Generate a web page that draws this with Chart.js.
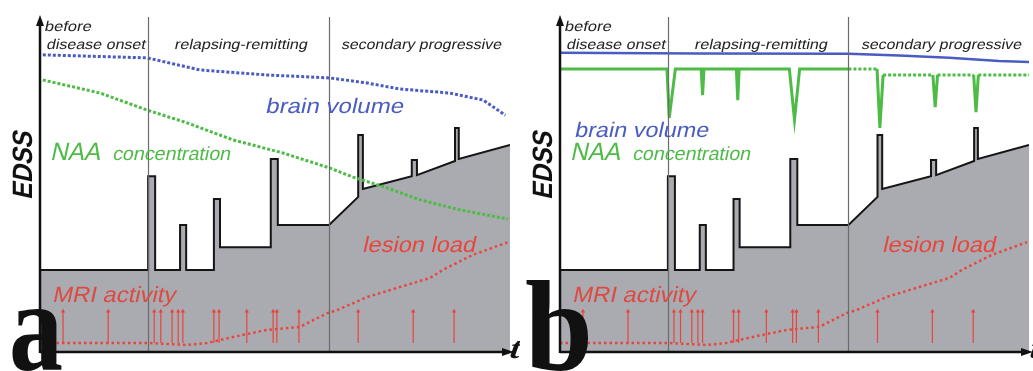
<!DOCTYPE html>
<html>
<head>
<meta charset="utf-8">
<script src="https://cdn.jsdelivr.net/npm/chart.js@4.4.1/dist/chart.umd.min.js"></script>
<style>
html, body { margin: 0; padding: 0; background: #fff; }
#wrap { position: relative; width: 1033px; height: 371px; overflow: hidden; }
canvas { position: absolute; top: 0; }
</style>
</head>
<body>
<div id="wrap">
  <canvas id="chart-a" width="520" height="371" style="left:0"></canvas>
  <canvas id="chart-b" width="513" height="371" style="left:520px"></canvas>
</div>
<script>
// time runs 0..100, values in arbitrary units 0..100
const phaseBounds = [23, 61.5];

// EDSS (disability) step curve, same in both panels
const edssX = [0, 23, 23, 24.5, 24.5, 29.8, 29.8, 31.1, 31.1, 37, 37, 38.3, 38.3, 49.1, 49.1, 50.6, 50.6, 61.5, 67.7, 67.7, 68.7, 68.7, 79.1, 79.1, 80.2, 80.2, 88.3, 88.3, 89.1, 89.1, 100];
const edssY = [24.5, 24.5, 52.5, 52.5, 24.5, 24.5, 37.9, 37.9, 24.5, 24.5, 45.7, 45.7, 31.3, 31.3, 57.6, 57.6, 37.9, 37.9, 46.3, 64.8, 64.8, 48.7, 52.5, 57.3, 57.3, 52.8, 57.0, 66.9, 66.9, 57.6, 61.8];

// lesion load
const lesionX = [0, 8.5, 22.8, 31.3, 35.5, 41.1, 48.3, 55.3, 61.1, 63.2, 69.6, 76.6, 83, 85.7, 92.1, 99.6];
const lesionY = [2.7, 2.7, 2.7, 2.1, 2.7, 4.5, 6.6, 7.5, 11.6, 12.5, 16.4, 19.4, 22.1, 24.5, 29, 32.8];

// MRI activity events
const mriX = [4.9, 14.5, 24.3, 25.7, 28.1, 29.4, 30.4, 37, 38.1, 44, 49.6, 50.4, 55.1, 67.7, 79.4, 88.1];
const mriLow = 2.7;
const mriHigh = 12.2;

// panel a
const brainXa = [0.6, 22.8, 34, 48.3, 61.7, 69.6, 76.6, 87.2, 94.3, 99];
const brainYa = [88.7, 87.8, 84.2, 82.7, 81.8, 80.3, 78.5, 77.3, 75.2, 70.7];
const naaXa = [0.6, 12.8, 22.8, 31.3, 41.1, 51.7, 61.7, 66.6, 73.8, 80.9, 89.4, 99.6];
const naaYa = [81.2, 77.3, 72.2, 68.4, 63.3, 59.4, 54.9, 52.2, 49.0, 45.4, 42.4, 39.7];

// panel b
const brainXb = [0, 29.8, 61.5, 72.3, 83, 93.6, 100];
const brainYb = [89.3, 89.1, 89, 88.5, 87.8, 86.9, 86.6];
const naaXb = [0, 22.8, 23.3, 24.6, 30.1, 30.4, 30.7, 37.6, 37.9, 38.2, 48.9, 50.0, 51.1, 61.5, 67.6, 68.2, 68.9, 79.5, 80.0, 80.5, 88.2, 88.7, 89.2, 100];
const naaYb = [84.5, 84.5, 69.9, 84.5, 84.5, 76.7, 84.5, 84.5, 75.2, 84.5, 84.5, 69.3, 84.5, 84.5, 84.5, 66.9, 82.7, 82.7, 73.1, 82.7, 82.7, 71.6, 82.7, 82.7];

const BLUE = '#4a5cc2', GREEN = '#4dbb46', RED = '#e8453c', GRAY = '#aaabb0';

function pts(xs, ys) { return xs.map((x, i) => ({ x: x, y: ys[i] })); }

function mriLines() {
    const d = [];
    mriX.forEach(x => { d.push({ x: x, y: mriLow }, { x: x, y: mriHigh }, { x: x, y: null }); });
    return d;
}

// draws text stretched to width w, slanted by hand so it is italic whatever the font
function fitText(ctx, text, x, y, w, font, color, rot, slant) {
    ctx.save();
    ctx.font = font;
    ctx.fillStyle = color;
    const m = ctx.measureText(text).width;
    ctx.translate(x, y);
    if (rot) ctx.rotate(rot);
    ctx.transform(1, 0, slant === undefined ? -0.22 : slant, 1, 0, 0);
    ctx.scale(w / m, 1);
    ctx.fillText(text, 0, 0);
    ctx.restore();
}

const SANS = '"Liberation Sans", Arial, sans-serif';
const SERIF = '"Liberation Serif", "Times New Roman", serif';

const sketchPlugin = {
    id: 'sketch',
    afterDatasetsDraw(chart, args, opts) {
        const ctx = chart.ctx, xs = chart.scales.x, ys = chart.scales.y;
        const top = chart.chartArea.top, bot = ys.getPixelForValue(0), left = xs.getPixelForValue(0);
        ctx.save();
        // phase separators
        ctx.strokeStyle = '#6b6b6b';
        ctx.lineWidth = 1.2;
        phaseBounds.forEach(b => {
            const px = Math.round(xs.getPixelForValue(b)) + 0.5;
            ctx.beginPath(); ctx.moveTo(px, top); ctx.lineTo(px, bot); ctx.stroke();
        });
        // axes with arrows
        ctx.strokeStyle = '#111'; ctx.fillStyle = '#111';
        ctx.lineWidth = 2.5;
        ctx.beginPath(); ctx.moveTo(left, bot + 1); ctx.lineTo(left, top + 6); ctx.stroke();
        ctx.beginPath(); ctx.moveTo(left - 4, top + 9); ctx.lineTo(left, top - 2); ctx.lineTo(left + 4, top + 9); ctx.closePath(); ctx.fill();
        ctx.beginPath(); ctx.moveTo(left, bot); ctx.lineTo(xs.right - 4, bot); ctx.stroke();
        ctx.beginPath(); ctx.moveTo(xs.right - 8, bot - 4); ctx.lineTo(xs.right + 4, bot); ctx.lineTo(xs.right - 8, bot + 4); ctx.closePath(); ctx.fill();
        ctx.restore();
    },
    afterDraw(chart, args, opts) {
        const ctx = chart.ctx;
        ctx.save();
        ctx.textBaseline = 'alphabetic';
        fitText(ctx, 'before', 44, 31, 47, '14px ' + SANS, '#222');
        fitText(ctx, 'disease onset', 46, 49, 99, '14px ' + SANS, '#222');
        fitText(ctx, 'relapsing-remitting', 174, 49, 133, '14px ' + SANS, '#222');
        fitText(ctx, 'secondary progressive', 341, 49, 160, '14px ' + SANS, '#222');
        if (opts.panel === 'a') {
            fitText(ctx, 'brain volume', 265, 113, 138, '21px ' + SANS, BLUE);
        } else {
            fitText(ctx, 'brain volume', 54, 137, 134, '21px ' + SANS, BLUE);
        }
        fitText(ctx, 'NAA', 50, 160, 50, '25px ' + SANS, GREEN);
        fitText(ctx, 'concentration', 112, 160, 118, '19px ' + SANS, GREEN);
        fitText(ctx, 'lesion load', 362, 252, 113, '22px ' + SANS, RED);
        fitText(ctx, 'MRI activity', 52, 302, 123, '22px ' + SANS, '#dd4a42');
        fitText(ctx, 'EDSS', 32, 200, 68, 'bold 28px ' + SANS, '#111', -Math.PI / 2);
        fitText(ctx, 't', 509, 358, 10, 'bold italic 30px ' + SERIF, '#111', 0, -0.15);
        if (opts.panel === 'a') {
            fitText(ctx, 'a', 9, 370, 54, 'bold 130px ' + SERIF, '#111', 0, 0);
        } else {
            fitText(ctx, 'b', 5, 370, 68, 'bold 130px ' + SERIF, '#111', 0, 0);
        }
        ctx.restore();
    }
};

function commonSets() {
    return [
        {
            label: 'EDSS', data: pts(edssX, edssY), order: 10,
            borderColor: '#151515', borderWidth: 2, backgroundColor: GRAY, fill: 'origin',
            borderJoinStyle: 'miter'
        },
        {
            label: 'lesion load', data: pts(lesionX, lesionY), order: 3,
            borderColor: RED, borderWidth: 2.5, borderDash: [2.5, 3], fill: false
        },
        {
            label: 'MRI activity', data: mriLines(), order: 4,
            borderColor: RED, borderWidth: 1.2, fill: false, spanGaps: false
        },
        {
            label: 'MRI arrows', data: mriX.map(x => ({ x: x, y: mriHigh })), order: 4,
            showLine: false, pointStyle: 'triangle', pointRadius: 2.5,
            pointBackgroundColor: RED, pointBorderWidth: 0
        }
    ];
}

function makeChart(id, width, sets, panel) {
    return new Chart(document.getElementById(id), {
        type: 'line',
        data: { datasets: sets },
        options: {
            responsive: false,
            animation: false,
            layout: { padding: { left: 40, right: width - 510, top: 17, bottom: 19 } },
            scales: {
                x: { type: 'linear', min: 0, max: 100, display: false },
                y: { min: 0, max: 100, display: false }
            },
            elements: { point: { radius: 0 }, line: { tension: 0 } },
            plugins: { legend: { display: false }, tooltip: { enabled: false }, sketch: { panel: panel } }
        },
        plugins: [sketchPlugin]
    });
}

const setsA = commonSets().concat([
    {
        label: 'brain volume', data: pts(brainXa, brainYa), order: 1,
        borderColor: BLUE, borderWidth: 3, borderDash: [3, 2], fill: false
    },
    {
        label: 'NAA concentration', data: pts(naaXa, naaYa), order: 2,
        borderColor: GREEN, borderWidth: 3, borderDash: [3, 2], fill: false
    }
]);

const setsB = commonSets().concat([
    {
        label: 'brain volume', data: pts(brainXb, brainYb), order: 1,
        borderColor: BLUE, borderWidth: 2.5, fill: false
    },
    {
        label: 'NAA concentration', data: pts(naaXb, naaYb), order: 2,
        borderColor: GREEN, borderWidth: 3, fill: false, borderJoinStyle: 'miter',
        segment: {
            borderDash: c => (c.p0.parsed.x >= phaseBounds[1] && c.p0.parsed.y === c.p1.parsed.y) ? [3, 2] : undefined
        }
    }
]);

window.charts = window.charts || {};
window.charts['chart-a'] = makeChart('chart-a', 520, setsA, 'a');
window.charts['chart-b'] = makeChart('chart-b', 513, setsB, 'b');
</script>
</body>
</html>
